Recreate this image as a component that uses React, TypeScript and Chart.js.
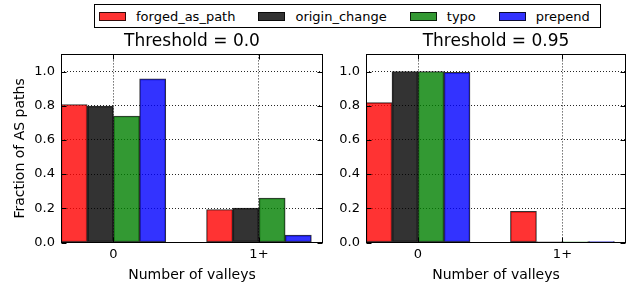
import React, { useEffect, useRef } from "react";
import { Chart, registerables } from "chart.js";

Chart.register(...registerables);

// ---- data ----
const categories = ["0", "1+"];
const seriesNames = ["forged_as_path", "origin_change", "typo", "prepend"];
const panelTitles = ["Threshold = 0.0", "Threshold = 0.95"];

// Threshold = 0.0
const forgedT0 = [0.807, 0.193];
const originT0 = [0.798, 0.202];
const typoT0 = [0.74, 0.26];
const prependT0 = [0.957, 0.043];

// Threshold = 0.95
const forgedT95 = [0.818, 0.182];
const originT95 = [1.0, 0.004];
const typoT95 = [1.0, 0.004];
const prependT95 = [0.995, 0.005];

const yTicks = [0, 0.2, 0.4, 0.6, 0.8, 1.0];
const xLabel = "Number of valleys";
const yLabel = "Fraction of AS paths";

// ---- style ----
const seriesColors = [
  "rgba(255,0,0,0.8)",
  "rgba(0,0,0,0.8)",
  "rgba(0,128,0,0.8)",
  "rgba(0,0,255,0.8)",
];
const FONT = "'DejaVu Sans', sans-serif";
const BAR_WIDTH = 0.18;
const X_MIN = -0.36;
const X_MAX = 1.44;
const Y_MAX = 1.1;

const frameTicks = {
  id: "frameTicks",
  afterDatasetsDraw(chart: any) {
    const { ctx, chartArea: a, scales } = chart;
    const L = Math.round(a.left) + 0.5;
    const R = Math.round(a.right) - 0.5;
    const T = Math.round(a.top) + 0.5;
    const B = Math.round(a.bottom) - 0.5;
    ctx.save();
    ctx.strokeStyle = "#000";
    ctx.lineWidth = 1;
    ctx.beginPath();
    const tl = 5;
    for (const t of scales.y.ticks) {
      const y = Math.round(scales.y.getPixelForValue(t.value)) + 0.5;
      ctx.moveTo(L, y);
      ctx.lineTo(L + tl, y);
      ctx.moveTo(R, y);
      ctx.lineTo(R - tl, y);
    }
    for (const t of scales.x.ticks) {
      const x = Math.round(scales.x.getPixelForValue(t.value)) + 0.5;
      ctx.moveTo(x, B);
      ctx.lineTo(x, B - tl);
      ctx.moveTo(x, T);
      ctx.lineTo(x, T + tl);
    }
    ctx.stroke();
    ctx.strokeRect(L, T, R - L, B - T);
    ctx.restore();
  },
};

type PanelProps = {
  left: number;
  width: number;
  title: string;
  values: number[][];
  showYTitle: boolean;
  yAxisWidth: number;
};

function Panel({ left, width, title, values, showYTitle, yAxisWidth }: PanelProps) {
  const ref = useRef<HTMLCanvasElement>(null);
  useEffect(() => {
    const datasets = seriesNames.map((name, k) => ({
      label: name,
      data: categories.map((_, i) => ({ x: i + (k - 1.5) * BAR_WIDTH, y: values[k][i] })),
      backgroundColor: seriesColors[k],
      borderColor: "rgba(0,0,0,0.8)",
      borderWidth: 1,
      borderSkipped: false as any,
      grouped: false,
      categoryPercentage: 1,
      barPercentage: 1,
    }));
    const chart = new Chart(ref.current as HTMLCanvasElement, {
      type: "bar",
      data: { datasets } as any,
      options: {
        animation: false,
        responsive: false,
        maintainAspectRatio: false,
        layout: { padding: { left: 0, right: 7, top: 0, bottom: 0 } },
        plugins: {
          legend: { display: false },
          tooltip: { enabled: false },
          title: {
            display: true,
            text: title,
            fullSize: false,
            color: "#000",
            font: { family: FONT, size: 17, weight: "normal" as any },
            padding: { top: 3, bottom: 3 },
          },
        },
        scales: {
          x: {
            type: "linear",
            min: X_MIN,
            max: X_MAX,
            offset: false,
            grid: { offset: false, display: true, drawTicks: false, color: "rgba(0,0,0,0.85)", lineWidth: 1 },
            border: { display: false, dash: [1, 2] },
            afterBuildTicks: (s: any) => {
              s.ticks = categories.map((_, i) => ({ value: i }));
            },
            ticks: {
              callback: (v: any) => categories[v] ?? "",
              color: "#000",
              font: { family: FONT, size: 13 },
              padding: 4,
              maxRotation: 0,
              autoSkip: false,
            },
            title: {
              display: true,
              text: xLabel,
              color: "#000",
              font: { family: FONT, size: 14 },
              padding: { top: 0, bottom: 2 },
            },
            afterFit: (s: any) => {
              s.height = 43.5;
            },
          } as any,
          y: {
            min: 0,
            max: Y_MAX,
            grid: { display: true, drawTicks: false, color: "rgba(0,0,0,0.85)", lineWidth: 1 },
            border: { display: false, dash: [1, 2] },
            afterBuildTicks: (s: any) => {
              s.ticks = yTicks.map((v) => ({ value: v }));
            },
            ticks: {
              callback: (v: any) => Number(v).toFixed(1),
              color: "#000",
              font: { family: FONT, size: 13 },
              padding: 6,
            },
            title: {
              display: showYTitle,
              text: yLabel,
              color: "#000",
              font: { family: FONT, size: 14 },
              padding: { top: 12, bottom: 0 },
            },
            afterFit: (s: any) => {
              s.width = yAxisWidth;
            },
          } as any,
        },
      },
      plugins: [frameTicks],
    });
    return () => chart.destroy();
  }, []);
  return (
    <canvas
      ref={ref}
      width={width}
      height={258}
      style={{ position: "absolute", left, top: 28, width, height: 258 }}
    />
  );
}

export default function App() {
  return (
    <div
      style={{
        position: "fixed",
        left: 0,
        top: 0,
        width: 633,
        height: 286,
        background: "#fff",
        overflow: "hidden",
        fontFamily: FONT,
      }}
    >
      <div
        style={{
          position: "absolute",
          left: 94,
          top: 4,
          width: 507,
          height: 24,
          boxSizing: "border-box",
          border: "1px solid #000",
          display: "flex",
          alignItems: "center",
          paddingLeft: 4,
          fontSize: 13,
          color: "#000",
          whiteSpace: "nowrap",
        }}
      >
        {seriesNames.map((n, i) => (
          <div key={n} style={{ display: "flex", alignItems: "center", marginRight: 23 }}>
            <span
              style={{
                display: "inline-block",
                width: 27,
                height: 9,
                boxSizing: "border-box",
                background: seriesColors[i],
                border: "1px solid rgba(0,0,0,0.8)",
                marginRight: 10,
              }}
            />
            <span>{n}</span>
          </div>
        ))}
      </div>
      <Panel
        left={0}
        width={330}
        title={panelTitles[0]}
        values={[forgedT0, originT0, typoT0, prependT0]}
        showYTitle={true}
        yAxisWidth={61}
      />
      <Panel
        left={330}
        width={303}
        title={panelTitles[1]}
        values={[forgedT95, originT95, typoT95, prependT95]}
        showYTitle={false}
        yAxisWidth={36}
      />
    </div>
  );
}
